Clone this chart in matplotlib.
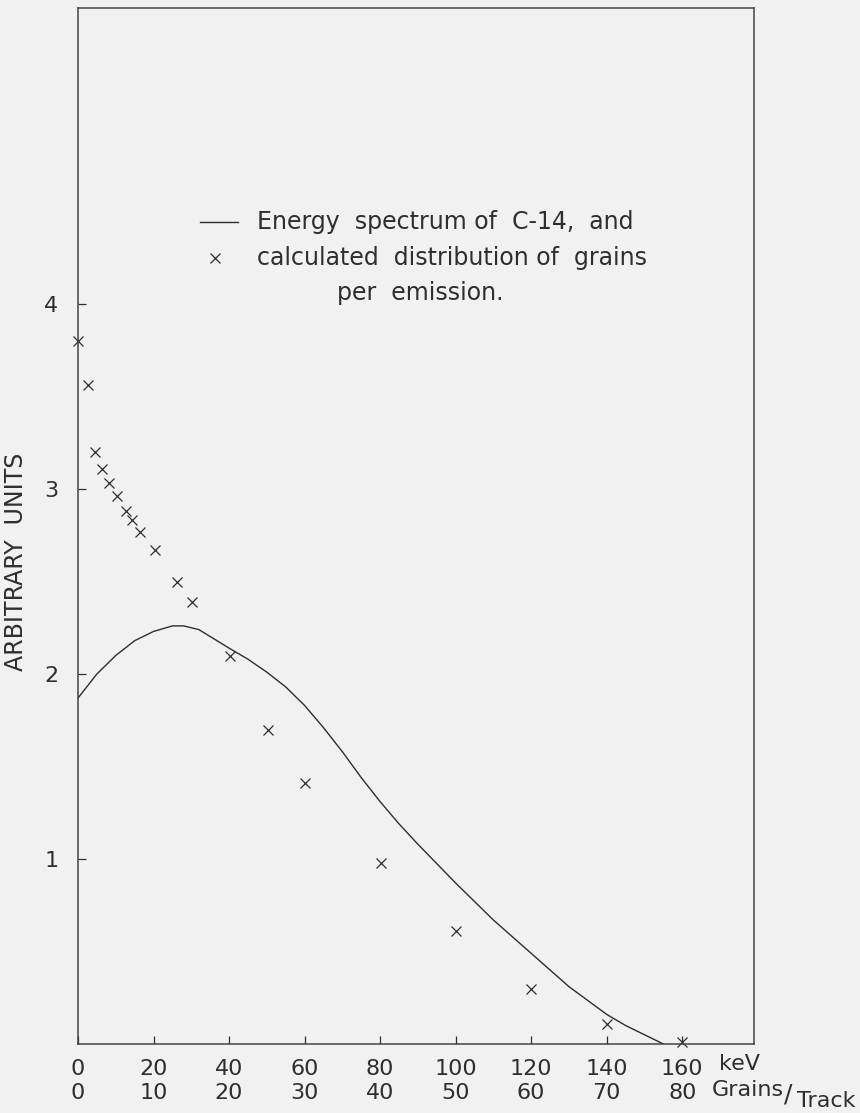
import matplotlib
matplotlib.use("Agg")
import matplotlib.pyplot as plt

# energy spectrum of C-14 (solid line)
spec_kev = [0, 5, 10, 15, 20, 25, 28, 32, 36, 40, 45, 50, 55, 60, 65, 70, 75,
            80, 85, 90, 100, 110, 120, 130, 134, 140, 145, 150, 155]
spec_val = [1.87, 2.0, 2.1, 2.18, 2.23, 2.26, 2.26, 2.24, 2.19, 2.14, 2.08, 2.01,
            1.93, 1.83, 1.71, 1.58, 1.44, 1.31, 1.19, 1.08, 0.87, 0.67, 0.49,
            0.31, 0.25, 0.16, 0.10, 0.05, 0.0]

# calculated distribution of grains per emission (crosses)
grain_kev = [0, 2.6, 4.5, 6.4, 8.2, 10.4, 12.6, 14.3, 16.5, 20.3, 26.3, 30.3,
             40.2, 50.2, 60.2, 80.1, 100, 120, 140, 160]
grain_val = [3.80, 3.56, 3.20, 3.11, 3.03, 2.96, 2.88, 2.83, 2.77, 2.67, 2.50,
             2.39, 2.10, 1.70, 1.41, 0.98, 0.61, 0.30, 0.11, 0.01]

kev_ticks = [0, 20, 40, 60, 80, 100, 120, 140, 160]
grain_ticks = [0, 10, 20, 30, 40, 50, 60, 70, 80]
y_ticks = [1, 2, 3, 4]

ink = "#2e2e2e"
bg = "#f1f1f1"

fig = plt.figure(figsize=(8.6, 11.13), dpi=100, facecolor=bg)
ax = fig.add_axes([78 / 860, 69 / 1113, 676 / 860, 1036 / 1113], facecolor=bg)

ax.plot(spec_kev, spec_val, color=ink, lw=1.0)
ax.plot(grain_kev, grain_val, ls="none", marker="x", ms=7, mew=0.9, color=ink,
        clip_on=False)

ax.set_xlim(0, 179)
ax.set_ylim(0, 5.6)

for s in ax.spines.values():
    s.set_color("#444444")
    s.set_linewidth(1.1)

ax.set_xticks(kev_ticks)
ax.set_xticklabels([f"{k}\n{g}" for k, g in zip(kev_ticks, grain_ticks)],
                   linespacing=1.25)
ax.set_yticks(y_ticks)
ax.set_yticklabels([str(v) for v in y_ticks])
ax.tick_params(axis="x", direction="in", length=6, width=0.9, colors=ink,
               labelsize=16, pad=11)
ax.tick_params(axis="y", direction="in", length=6, width=0.9, colors=ink,
               labelsize=16, pad=14)
ax.set_ylabel("ARBITRARY  UNITS", fontsize=17, color=ink)
ax.yaxis.set_label_coords(-0.074, 0.465)

# unit labels at the end of the x axis
fig.text(719 / 860, 1 - 1064 / 1113, "keV", fontsize=16, color=ink,
         va="center", ha="left")
fig.text(712 / 860, 1 - 1090 / 1113, "Grains", fontsize=16, color=ink,
         va="center", ha="left")
fig.text(784 / 860, 1 - 1094 / 1113, "/", fontsize=18, color=ink,
         va="center", ha="left")
fig.text(797 / 860, 1 - 1101 / 1113, "Track", fontsize=16, color=ink,
         va="center", ha="left")

# key drawn by hand, as in the original figure
key_y1 = (1044 - 222) / 1036
key_y2 = (1044 - 258) / 1036
key_y3 = (1044 - 293) / 1036
ax.plot([0.180, 0.236], [key_y1, key_y1], color=ink, lw=1.0,
        transform=ax.transAxes, clip_on=False)
ax.plot([0.203], [key_y2], ls="none", marker="x", ms=7, mew=0.9,
        color=ink, transform=ax.transAxes)
ax.text(0.265, key_y1, "Energy  spectrum of  C-14,  and", fontsize=17,
        color=ink, transform=ax.transAxes, va="center", ha="left")
ax.text(0.265, key_y2, "calculated  distribution of  grains",
        fontsize=17, color=ink, transform=ax.transAxes, va="center", ha="left")
ax.text(0.506, key_y3, "per  emission.", fontsize=17, color=ink,
        transform=ax.transAxes, va="center", ha="center")

fig.savefig("out.png", dpi=100, facecolor=bg)
